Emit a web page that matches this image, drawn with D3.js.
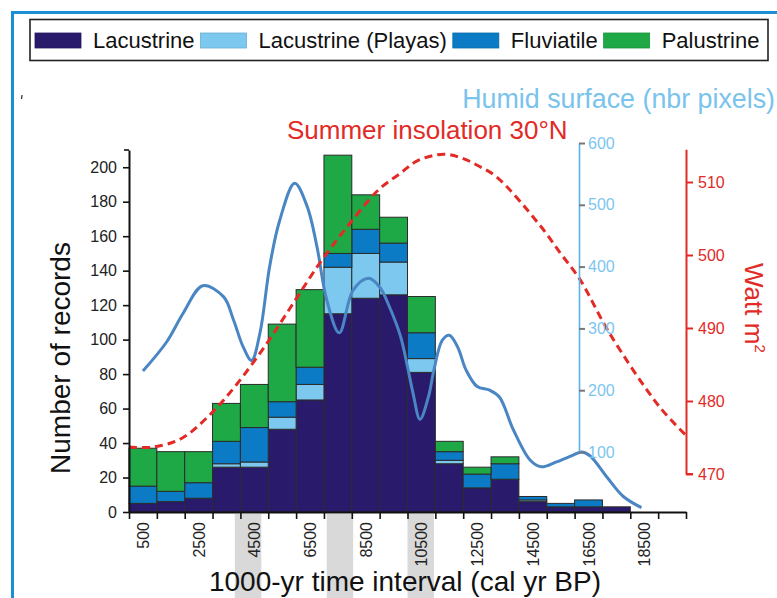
<!DOCTYPE html>
<html>
<head>
<meta charset="utf-8">
<script src="https://cdn.jsdelivr.net/npm/d3@7"></script>
<style>
  html, body { margin: 0; padding: 0; background: #fff; }
  svg { display: block; font-family: "Liberation Sans", Arial, Helvetica, sans-serif; }
</style>
</head>
<body>
<svg id="chart" width="777" height="598"></svg>
<script>
// ---------- DATA ----------
const binStarts = d3.range(0, 20000, 1000);           // 1000-yr intervals
const lacustrine = [5, 6, 8, 26, 26, 48, 65, 115, 124, 126, 81, 28, 14, 19, 6, 3, 3, 3, 0, 0];
const playas     = [0, 0, 0, 2, 3, 7, 9, 27, 26, 19, 8, 2, 0, 0, 1, 0, 0, 0, 0, 0];
const fluviatile = [10, 6, 9, 13, 20, 9, 10, 8, 14, 11, 15, 5, 8, 9, 2, 2, 4, 0, 0, 0];
const palustrine = [22, 23, 18, 22, 25, 45, 45, 57, 20, 15, 21, 6, 4, 4, 0, 0, 0, 0, 0, 0];
const xTickLabels = [500, 2500, 4500, 6500, 8500, 10500, 12500, 14500, 16500, 18500];
const leftTicks = d3.range(0, 201, 20);
const humidTicks = [100, 200, 300, 400, 500, 600];
const insolTicks = [470, 480, 490, 500, 510];
// Humid surface (nbr pixels): [yr BP, value]
const humidYears  = [500, 1350, 1950, 2650, 3400, 3750, 4100, 4400, 4700, 5050, 5400, 5950, 6400, 6750, 7100, 7550, 8050, 8600, 9000, 9350, 9750, 10000, 10200, 10450, 10750, 10950, 11250, 11500, 11800, 12100, 12500, 12950, 13300, 13800, 14400, 14800, 15350, 15950, 16250, 16550, 17150, 17750, 18400];
const humidValues = [231, 278, 325, 369, 351, 314, 270, 248, 292, 400, 473, 535, 497, 432, 346, 293, 362, 381, 367, 335, 287, 238, 195, 153, 189, 233, 281, 289, 270, 233, 206, 200, 189, 136, 87, 76, 84, 95, 100, 94, 60, 28, 10];
// Summer insolation 30°N (W m-2)
const insolYears  = [0, 900, 1900, 2900, 3850, 4950, 5900, 6850, 7800, 8950, 9750, 10350, 11300, 12000, 12600, 13200, 14750, 15500, 16200, 17250, 19050, 20000];
const insolValues = [473.7, 473.7, 474.9, 478.1, 482.2, 487.9, 493.4, 498.9, 503.7, 508.9, 511.2, 512.9, 513.8, 513.2, 512.1, 510.7, 504.1, 500.2, 496.6, 489.3, 479.2, 475.3];
// Highlighted intervals below the axis
const bandStarts = [3800, 7100, 10000];
const bandEnds   = [4750, 8050, 10950];
const seriesNames = ["Lacustrine", "Lacustrine (Playas)", "Fluviatile", "Palustrine"];
const seriesColors = ["#2a1a6c", "#7cc8ef", "#0a7bc4", "#1fa846"];

// ---------- LAYOUT ----------
const svg = d3.select("#chart");
const font = '"Liberation Sans", Arial, Helvetica, sans-serif';

const x = d3.scaleLinear().domain([0, 20000]).range([129, 686]);
const y = d3.scaleLinear().domain([0, 210]).range([512, 150]);
const yH = d3.scaleLinear().domain([100, 600]).range([452, 143]);
const yR = d3.scaleLinear().domain([470, 510]).range([474, 182]);

// frame lines (blue)
svg.append("line").attr("x1", 12).attr("x2", 777).attr("y1", 12.5).attr("y2", 12.5)
  .attr("stroke", "#1b8fd6").attr("stroke-width", 3);
svg.append("line").attr("x1", 12.5).attr("x2", 12.5).attr("y1", 11).attr("y2", 598)
  .attr("stroke", "#1b8fd6").attr("stroke-width", 3);
// small artefact mark
svg.append("line").attr("x1", 22).attr("x2", 21.5).attr("y1", 95).attr("y2", 99)
  .attr("stroke", "#333").attr("stroke-width", 1.2);

// gray bands below axis
svg.append("g").selectAll("rect").data(bandStarts).join("rect")
  .attr("x", (d) => x(d)).attr("width", (d, i) => x(bandEnds[i]) - x(d))
  .attr("y", 514).attr("height", 84).attr("fill", "#d9d9d9");

// ---------- LEGEND ----------
const lg = svg.append("g");
lg.append("rect").attr("x", 30).attr("y", 19.5).attr("width", 738).attr("height", 41)
  .attr("fill", "#fff").attr("stroke", "#222").attr("stroke-width", 1.6);
let lx = 35;
seriesNames.forEach((name, i) => {
  lg.append("rect").attr("x", lx).attr("y", 33).attr("width", 46).attr("height", 15)
    .attr("fill", seriesColors[i]).attr("stroke", d3.color(seriesColors[i]).darker(0.4)).attr("stroke-width", 0.8);
  const t = lg.append("text").attr("x", lx + 58).attr("y", 48).attr("font-size", 22)
    .attr("fill", "#111").text(name);
  lx = lx + 58 + t.node().getComputedTextLength() + 6;
});

// ---------- BARS ----------
const table = binStarts.map((s, i) => ({
  start: s,
  "Lacustrine": lacustrine[i],
  "Lacustrine (Playas)": playas[i],
  "Fluviatile": fluviatile[i],
  "Palustrine": palustrine[i]
}));
const stacked = d3.stack().keys(seriesNames)(table);
const barG = svg.append("g");
stacked.forEach((layer, li) => {
  barG.append("g").selectAll("rect").data(layer.filter(d => d[1] - d[0] > 0)).join("rect")
    .attr("x", d => x(d.data.start))
    .attr("width", d => x(d.data.start + 1000) - x(d.data.start))
    .attr("y", d => y(d[1]))
    .attr("height", d => y(d[0]) - y(d[1]))
    .attr("fill", seriesColors[li])
    .attr("stroke", "#2b2b2b").attr("stroke-width", 1);
});

// ---------- HUMID LINE ----------
const humid = humidYears.map((yr, i) => [yr, humidValues[i]]);
svg.append("path").datum(humid)
  .attr("d", d3.line().x(d => x(d[0])).y(d => yH(d[1])).curve(d3.curveCatmullRom.alpha(0.5)))
  .attr("fill", "none").attr("stroke", "#4a86c4").attr("stroke-width", 3).attr("stroke-linejoin", "round");

// ---------- INSOLATION LINE ----------
const insol = insolYears.map((yr, i) => [yr, insolValues[i]]);
svg.append("path").datum(insol)
  .attr("d", d3.line().x(d => x(d[0])).y(d => yR(d[1])).curve(d3.curveCatmullRom.alpha(0.5)))
  .attr("fill", "none").attr("stroke", "#e22a26").attr("stroke-width", 3)
  .attr("stroke-dasharray", "8,5");

// ---------- LEFT AXIS ----------
const leftAx = svg.append("g").attr("transform", "translate(129,0)");
leftAx.call(d3.axisLeft(y).tickValues(d3.range(10, 211, 20)).tickSize(4).tickFormat(""));
leftAx.call(d3.axisLeft(y).tickValues(leftTicks).tickSize(6).tickSizeOuter(0).tickPadding(6));
leftAx.selectAll("path.domain").attr("stroke", "#111").attr("stroke-width", 2);
leftAx.selectAll(".tick line").attr("stroke", "#111").attr("stroke-width", 1.6);
leftAx.selectAll(".tick text").attr("font-size", 16).attr("font-family", font).attr("fill", "#222");
leftAx.append("line").attr("x1", -5).attr("x2", 0).attr("y1", y(210)).attr("y2", y(210)).attr("stroke", "#111").attr("stroke-width", 1.6);
svg.append("text").attr("transform", "translate(70,358) rotate(-90)")
  .attr("text-anchor", "middle").attr("font-size", 28).attr("fill", "#111").text("Number of records");

// ---------- BOTTOM AXIS ----------
const botAx = svg.append("g").attr("transform", "translate(0,512)");
botAx.call(d3.axisBottom(x).tickValues(d3.range(0, 20001, 1000)).tickSize(7).tickSizeOuter(0).tickFormat(""));
botAx.selectAll("path.domain").attr("stroke", "#111").attr("stroke-width", 2.2);
botAx.selectAll(".tick line").attr("stroke", "#111").attr("stroke-width", 1.6);
svg.append("g").selectAll("text").data(xTickLabels).join("text")
  .attr("transform", d => `translate(${x(d) + 6},522) rotate(-90)`)
  .attr("text-anchor", "end").attr("font-size", 16).attr("fill", "#222").text(d => d);
svg.append("text").attr("x", 405).attr("y", 591).attr("text-anchor", "middle")
  .attr("font-size", 28).attr("fill", "#111").text("1000-yr time interval (cal yr BP)");

// ---------- HUMID AXIS ----------
const hAx = svg.append("g").attr("transform", "translate(579,0)");
hAx.call(d3.axisRight(yH).tickValues(humidTicks).tickSize(6).tickSizeOuter(0).tickPadding(3));
hAx.selectAll("path.domain").attr("stroke", "#5ab3e6").attr("stroke-width", 1.6);
hAx.selectAll(".tick line").attr("stroke", "#777").attr("stroke-width", 2);
hAx.selectAll(".tick text").attr("font-size", 16).attr("font-family", font).attr("fill", "#7cc6ee");
svg.append("text").attr("x", 775).attr("y", 108).attr("text-anchor", "end")
  .attr("font-size", 26.8).attr("fill", "#79c3ec").text("Humid surface (nbr pixels)");

// ---------- INSOLATION AXIS ----------
const rAx = svg.append("g").attr("transform", "translate(686,0)");
const yRext = yR.copy().domain([470, 514.5]).range([474, yR(514.5)]);
rAx.call(d3.axisRight(yRext).tickValues(d3.range(475, 511, 10)).tickSize(7).tickSizeOuter(0).tickFormat(""));
rAx.call(d3.axisRight(yRext).tickValues(insolTicks).tickSize(7).tickSizeOuter(0).tickPadding(5));
rAx.selectAll("path.domain").attr("stroke", "#e22a26").attr("stroke-width", 2);
rAx.selectAll(".tick line").attr("stroke", "#e22a26").attr("stroke-width", 2);
rAx.selectAll(".tick text").attr("font-size", 16).attr("font-family", font).attr("fill", "#e22a26");
rAx.append("line").attr("x1", 0).attr("x2", 7).attr("y1", yR(470)).attr("y2", yR(470)).attr("stroke", "#e22a26").attr("stroke-width", 2);
svg.append("text").attr("x", 287).attr("y", 139).attr("font-size", 26).attr("fill", "#e22a26")
  .text("Summer insolation 30°N");
const wt = svg.append("text").attr("transform", "translate(745,263) rotate(90)")
  .attr("font-size", 26).attr("fill", "#e22a26");
wt.append("tspan").text("Watt m");
wt.append("tspan").attr("font-size", 15).attr("dy", -10).text("2");
</script>
</body>
</html>
